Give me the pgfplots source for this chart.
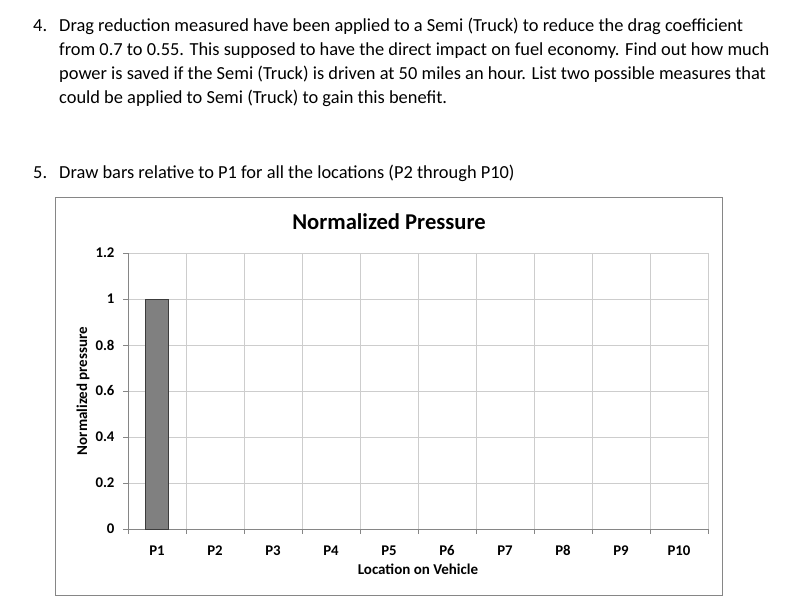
\documentclass[border=0pt]{standalone}
\usepackage{fontspec}
\setmainfont{Carlito}
\usepackage{pgfplots}
\pgfplotsset{compat=1.18}
\definecolor{gridgray}{RGB}{205,205,205}
\definecolor{axgray}{RGB}{134,134,134}
\definecolor{bargray}{RGB}{128,128,128}
\definecolor{baredge}{RGB}{60,60,60}

\begin{document}
\begin{tikzpicture}[x=1pt,y=1pt]
\useasboundingbox (0,0) rectangle (803,604);

% question text above the chart
\begin{scope}[every node/.style={anchor=base west,inner sep=0pt,font=\fontsize{18.4}{22}\selectfont}]
\node at (33,572.5) {4.};
\node at (59,572.5) {Drag reduction measured have been applied to a Semi (Truck) to reduce the drag coefficient};
\node at (59,548.5) {from 0.7 to 0.55. This supposed to have the direct impact on fuel economy. Find out how much};
\node at (59,524.5) {power is saved if the Semi (Truck) is driven at 50 miles an hour. List two possible measures that};
\node at (59,500.5) {could be applied to Semi (Truck) to gain this benefit.};
\node at (33,425) {5.};
\node at (59,425) {Draw bars relative to P1 for all the locations (P2 through P10)};
\end{scope}

% chart frame
\draw[axgray,line width=0.8pt] (55,9) rectangle (722,407);

\begin{axis}[
    at={(128pt,75pt)}, anchor=south west,
    scale only axis,
    width=580pt, height=276pt,
    xmin=0.5, xmax=10.5,
    ymin=0, ymax=1.2,
    axis lines=left,
    axis line style={-,axgray,line width=0.8pt},
    xtick={1,...,10},
    xticklabels={P1,P2,P3,P4,P5,P6,P7,P8,P9,P10},
    major x tick style={draw=none},
    minor xtick={0.5,1.5,...,10.5},
    xminorgrids=true,
    minor x tick style={axgray,line width=0.8pt},
    minor tick length=5pt,
    ytick={0,0.2,...,1.2},
    ymajorgrids=true,
    major y tick style={axgray,line width=0.8pt},
    major tick length=5pt,
    tick align=outside,
    grid style={gridgray,line width=0.8pt},
    minor grid style={gridgray,line width=0.8pt},
    /pgf/number format/assume math mode=true,
    tick label style={font=\fontsize{14.8}{16}\selectfont\bfseries},
    yticklabel style={xshift=-5pt},
    xticklabel style={anchor=base, yshift=-22pt},
    clip=false,
]
\addplot[ybar, bar width=23pt, bar shift=0pt, fill=bargray, draw=baredge, line width=0.8pt]
  coordinates {(1,1)};
\end{axis}

\node[font=\fontsize{22.6}{26}\selectfont\bfseries,anchor=base] at (389,374) {Normalized Pressure};
\node[font=\fontsize{15}{17}\selectfont\bfseries,anchor=base] at (418,29) {Location on Vehicle};
\node[font=\fontsize{15}{17}\selectfont\bfseries,rotate=90,anchor=base] at (87,213) {Normalized pressure};
\end{tikzpicture}
\end{document}
